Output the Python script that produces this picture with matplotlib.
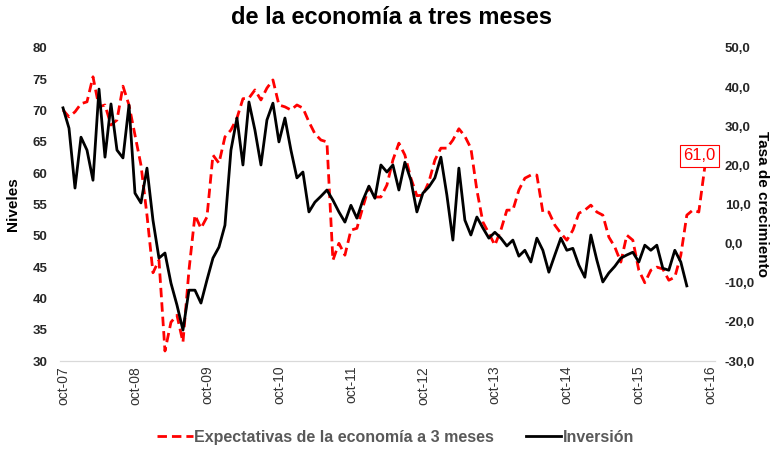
import numpy as np
import matplotlib
matplotlib.use("Agg")
import matplotlib.pyplot as plt

# monthly series, oct-07 .. sep-16
expectativas = [70.1, 69.0, 69.8, 71.1, 71.4, 75.4, 70.6, 70.9, 67.7, 68.5, 73.9, 70.9,
                66.1, 61.3, 53.3, 44.1, 46.1, 31.6, 36.2, 37.3, 33.0, 44.5, 53.3, 51.2,
                53.0, 62.9, 61.6, 65.8, 66.9, 68.8, 71.9, 72.0, 73.3, 71.7, 73.6, 74.9,
                70.9, 70.6, 70.1, 70.9, 70.4, 68.2, 66.3, 65.3, 65.0, 46.1, 48.8, 46.9,
                50.9, 51.2, 54.6, 57.8, 56.2, 56.2, 58.1, 62.1, 64.8, 62.9, 59.2, 56.4,
                56.5, 58.6, 62.1, 64.0, 64.0, 65.3, 67.1, 65.9, 64.0, 57.3, 52.2, 50.4,
                48.5, 50.9, 54.1, 54.1, 57.3, 59.2, 59.7, 59.7, 53.8, 53.8, 51.7, 50.4,
                49.3, 50.9, 53.6, 54.1, 54.9, 53.8, 53.3, 49.8, 48.2, 45.8, 50.1, 49.3,
                44.5, 42.5, 44.5, 45.0, 44.7, 42.9, 43.4, 46.9, 53.3, 54.1, 53.8, 61.0]

# inversion, oct-07 .. jun-16
inversion = [34.7, 29.5, 14.2, 27.2, 23.9, 16.2, 39.5, 22.1, 35.7, 23.9, 21.9, 35.4,
             12.9, 10.4, 19.3, 6.0, -3.7, -2.4, -10.1, -15.7, -22.1, -11.9, -11.9, -15.2,
             -9.3, -3.7, -0.9, 4.7, 23.9, 32.1, 20.1, 36.2, 29.0, 20.1, 31.6, 35.9,
             26.0, 32.1, 23.9, 16.8, 18.3, 8.1, 10.6, 12.1, 13.7, 11.1, 8.1, 5.5,
             9.8, 6.5, 11.1, 14.7, 11.6, 20.1, 18.3, 20.1, 13.7, 20.8, 16.2, 8.1,
             12.9, 14.5, 16.8, 22.1, 12.4, 0.9, 19.3, 6.0, 2.2, 6.8, 4.0, 1.4,
             2.9, 1.4, -0.6, 0.9, -3.2, -1.7, -4.7, 1.4, -1.7, -7.3, -2.9, 1.4,
             -1.7, -1.2, -5.5, -8.6, 2.2, -4.2, -9.8, -7.5, -5.8, -3.7, -2.9, -2.2,
             -4.7, -0.4, -1.7, -0.4, -6.3, -6.8, -1.7, -4.7, -10.8]

tick_labels = ["oct-07", "oct-08", "oct-09", "oct-10", "oct-11",
               "oct-12", "oct-13", "oct-14", "oct-15", "oct-16"]

narrow = ["Liberation Sans Narrow", "Liberation Sans", "DejaVu Sans"]
plt.rcParams["font.family"] = ["Liberation Sans", "DejaVu Sans"]

fig = plt.figure(figsize=(7.79, 4.54), dpi=100)
ax = fig.add_axes([60 / 779, 1 - 361 / 454, 655 / 779, 313 / 454])
ax2 = ax.twinx()

m_exp = np.arange(len(expectativas))
m_inv = np.arange(len(inversion))

l1, = ax.plot(m_exp, expectativas, color="#ff0000", lw=2.0, ls=(0, (3.4, 1.8)),
              label="Expectativas de la economía a 3 meses", solid_joinstyle="round")
l2, = ax2.plot(m_inv, inversion, color="black", lw=2.0, label="Inversión",
               solid_joinstyle="round")

ax.set_xlim(-0.5, 108.7)
ax.set_ylim(30, 80)
ax2.set_ylim(-30, 50)
ax.set_yticks(np.arange(30, 81, 5))
ax2.set_yticks(np.arange(-30, 51, 10))
ax2.set_yticklabels([f"{v:.1f}".replace(".", ",") for v in np.arange(-30, 51, 10)])
ax.set_xticks(np.arange(0, 109, 12))
ax.set_xticklabels(tick_labels, rotation=90, fontsize=10, color="#333333")

for a in (ax, ax2):
    for s in ("top", "left", "right"):
        a.spines[s].set_visible(False)
    a.spines["bottom"].set_color("#d9d9d9")
    a.tick_params(length=0)
ax.tick_params(axis="y", pad=9)
ax2.tick_params(axis="y", pad=7)
for t in ax.get_yticklabels() + ax2.get_yticklabels():
    t.set_fontweight("bold")
    t.set_fontsize(9.5)
    t.set_color("#262626")

ax.set_ylabel("Niveles", fontsize=11, fontweight="bold")
ax.yaxis.set_label_coords(-0.061, 0.5)
ax2.set_ylabel("Tasa de crecimiento", fontsize=11, fontweight="bold", rotation=270,
               va="center")
ax2.yaxis.set_label_coords(1.072, 0.5)

ax.annotate("61,0", xy=(107, 61.0), xytext=(-4, 8), textcoords="offset points",
            ha="center", va="center", color="#ff0000", fontsize=12,
            bbox=dict(boxstyle="square,pad=0.2", fc="white", ec="#ff0000", lw=0.8))

fig.text(0.503, 0.962, "de la economía a tres meses", ha="center", va="center",
         fontsize=17, fontweight="bold", family=narrow)

leg = fig.legend(handles=[l1, l2], loc="center", bbox_to_anchor=(0.508, 0.037),
                 ncol=2, frameon=False, handlelength=2.2, columnspacing=2.0,
                 handletextpad=0.1, prop={"family": narrow, "weight": "bold", "size": 11.5})
for t in leg.get_texts():
    t.set_color("#595959")

fig.savefig("out.png", dpi=100)
